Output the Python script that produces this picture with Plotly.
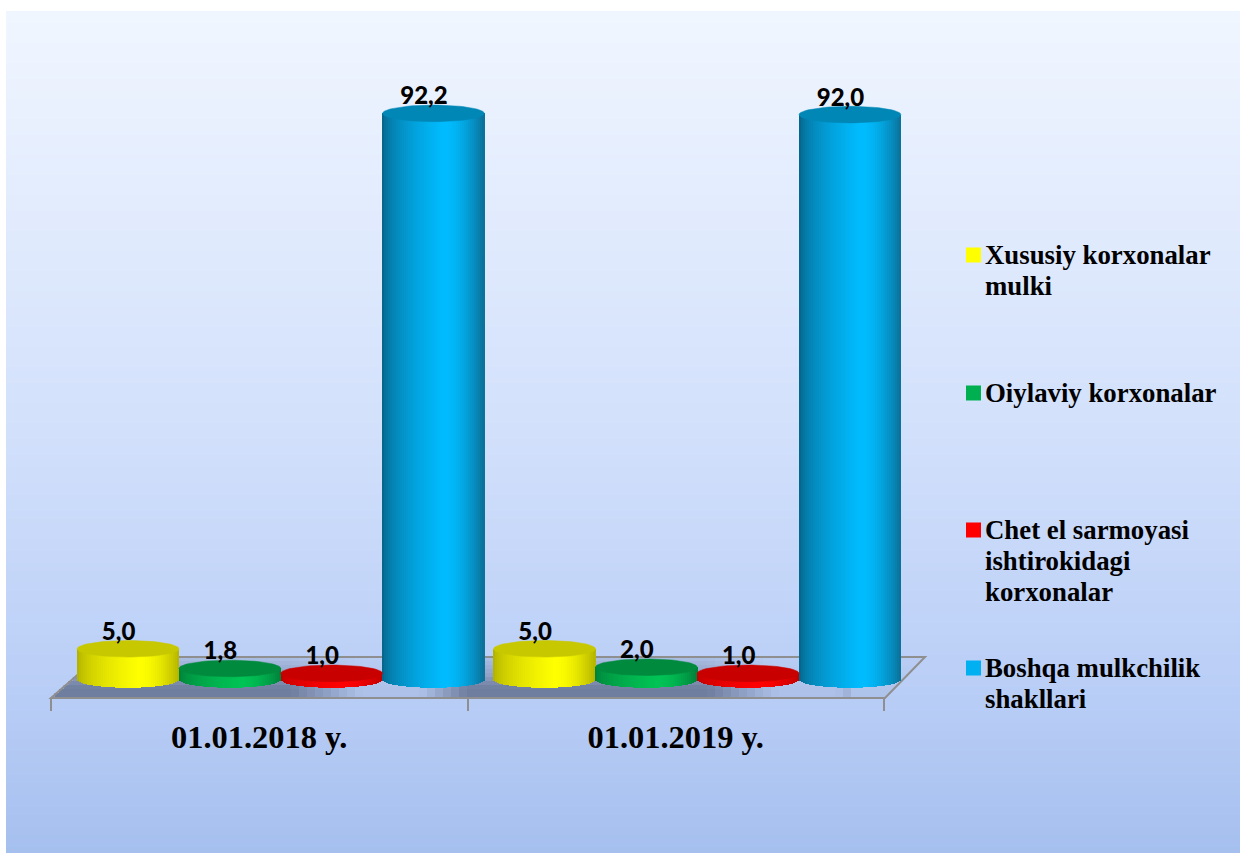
import math
import plotly.graph_objects as go

W, H = 1240, 853
categories = ["01.01.2018 y.", "01.01.2019 y."]
series_names = ["Xususiy korxonalar mulki", "Oiylaviy korxonalar",
                "Chet el sarmoyasi ishtirokidagi korxonalar", "Boshqa mulkchilik shakllari"]
xususiy = [5.0, 5.0]
oiylaviy = [1.8, 2.0]
chet_el = [1.0, 1.0]
boshqa = [92.2, 92.0]
series_values = [xususiy, oiylaviy, chet_el, boshqa]
legend_lines = [["Xususiy korxonalar", "mulki"], ["Oiylaviy korxonalar"],
                ["Chet el sarmoyasi", "ishtirokidagi", "korxonalar"],
                ["Boshqa mulkchilik", "shakllari"]]
swatch_colors = ["#ffff00", "#00b050", "#ff0000", "#00b0f0"]
# edge-left, peak, edge-right, top-cap
shades = [("#a8a800", "#ffff00", "#b4b400", "#c8c800"),
          ("#007a36", "#00c355", "#007f3a", "#008a3e"),
          ("#b80000", "#ff0000", "#c00000", "#c80000"),
          ("#075a7c", "#00bcff", "#0a6f96", "#0087b6")]

# plot-area geometry (px)
L, R, T, B = 51, 930, 11, 698
Y0_PX = 679.5
PX_PER_UNIT = 6.14
PX_PER_CAT = 416.5
bar_w_u = 101.8 / PX_PER_CAT
shift_u = 21.5 / PX_PER_CAT      # perspective shift of the columns
y_lo = -(B - Y0_PX) / PX_PER_UNIT
y_hi = (Y0_PX - T) / PX_PER_UNIT
ell_h = 8.3 / PX_PER_UNIT
N_STRIPS = 51


def px(xp):
    return (xp - L) / (R - L)


def py(yp):
    return (B - yp) / (B - T)


def hex2(c):
    return [int(c[i:i + 2], 16) for i in (1, 3, 5)]


def mix(a, b, t):
    return "rgb(%d,%d,%d)" % tuple(round(p + (q - p) * t) for p, q in zip(hex2(a), hex2(b)))


def shade(s, t):
    peak = 0.6
    if t < peak:
        return mix(s[0], s[1], (t / peak) ** 0.5)
    return mix(s[1], s[2], ((t - peak) / (1 - peak)) ** 1.8)


fig = go.Figure()

for si, vals in enumerate(series_values):
    xs, ys, bases, ws, cols = [], [], [], [], []
    for gi, v in enumerate(vals):
        cx = gi + shift_u + (si - 1.5) * bar_w_u
        for k in range(N_STRIPS):
            t = (k + 0.5) / N_STRIPS
            u = 2 * t - 1
            base = -ell_h * math.sqrt(max(0, 1 - u * u))
            xs.append(cx + u * bar_w_u / 2)
            bases.append(base)
            ys.append(v - base)
            ws.append(bar_w_u / N_STRIPS * 1.25)
            cols.append(shade(shades[si], t))
    fig.add_trace(go.Bar(x=xs, y=ys, base=bases, width=ws, marker=dict(color=cols, line=dict(width=0)),
                         name=series_names[si], showlegend=False, hoverinfo="skip", cliponaxis=False))
    for gi, v in enumerate(vals):
        cx = gi + shift_u + (si - 1.5) * bar_w_u
        ang = [2 * math.pi * i / 72 for i in range(73)]
        fig.add_trace(go.Scatter(x=[cx + bar_w_u / 2 * math.cos(a) for a in ang],
                                 y=[v + ell_h * math.sin(a) for a in ang],
                                 mode="lines", fill="toself", fillcolor=shades[si][3],
                                 line=dict(color=shades[si][3], width=0.5), showlegend=False,
                                 hoverinfo="skip", cliponaxis=False))

# data labels
lx, ly, lt = [], [], []
for si, vals in enumerate(series_values):
    for gi, v in enumerate(vals):
        lx.append(gi + shift_u + (si - 1.5) * bar_w_u - 9.5 / PX_PER_CAT)
        ly.append(v + 15 / PX_PER_UNIT)
        lt.append(f"{v:.1f}".replace(".", ","))
fig.add_trace(go.Scatter(x=lx, y=ly, text=lt, mode="text", textposition="middle center",
                         textfont=dict(family="Lato", size=24, color="#000000", weight=900),
                         showlegend=False, hoverinfo="skip", cliponaxis=False))

shapes = []
# background gradient
bg_stops = [(11, "#f0f6ff"), (430, "#d2e0fb"), (700, "#b8cdf6"), (853, "#a5bfee")]
step = 4
for y in range(11, H, step):
    for (a, ca), (b, cb) in zip(bg_stops, bg_stops[1:]):
        if a <= y <= b:
            col = mix(ca, cb, (y - a) / (b - a))
            break
    shapes.append(dict(type="rect", xref="paper", yref="paper", x0=px(6), x1=px(W + 2),
                       y0=py(H + 2), y1=py(y), fillcolor=col, line_width=0, layer="below"))


# floor shading
def horiz(x):
    if x > 850:
        return 0.12
    off = (x - 51) % PX_PER_CAT
    if off < 240:
        return 1.0
    if off < 310:
        return 1.0 - 0.85 * (off - 240) / 70
    if off < 370:
        return 0.15
    return 0.15 + 0.85 * (off - 370) / (PX_PER_CAT - 370)


def vert(y):
    if y < 675:
        return 0.2 + 0.35 * (y - 657) / 18
    if y < 688:
        return 0.55 + 0.45 * (y - 675) / 13
    return 1.0


for ya in range(657, 697, 4):
    yb = ya + 4
    ym = ya + 2
    lb = 51 + (698 - ym) * 47 / 41
    rb = 885 + (698 - ym) * 40 / 41
    xa = 51
    while xa < rb:
        x0, x1 = max(xa, lb), min(xa + 8, rb)
        if x1 > x0:
            alpha = 0.92 * horiz((x0 + x1) / 2) * vert(ym)
            shapes.append(dict(type="rect", xref="paper", yref="paper", x0=px(x0), x1=px(x1),
                               y0=py(yb), y1=py(ya), fillcolor=f"rgba(104,118,150,{alpha:.3f})",
                               line_width=0, layer="below"))
        xa += 8
fl = [(51, 698), (885, 698), (925, 657), (98, 657)]
path = "M " + " L ".join(f"{px(a):.5f},{py(b):.5f}" for a, b in fl) + " Z"
shapes.append(dict(type="path", xref="paper", yref="paper", path=path, fillcolor="rgba(0,0,0,0)",
                   line=dict(color="#8f8f8f", width=2), layer="below"))

# legend swatches
sw_y = [255, 393, 530, 668]
for c, y in zip(swatch_colors, sw_y):
    shapes.append(dict(type="rect", xref="paper", yref="paper", x0=px(966), x1=px(981),
                       y0=py(y + 7.5), y1=py(y - 7.5), fillcolor=c, line_width=0))

ann = []
for lines, y0 in zip(legend_lines, sw_y):
    for i, ln in enumerate(lines):
        ann.append(dict(xref="paper", yref="paper", x=px(983), y=py(y0 + i * 31), text=ln, showarrow=False,
                        xanchor="left", yanchor="middle", align="left",
                        font=dict(family="Liberation Serif", size=26.8, color="#000000", weight=700)))

fig.update_layout(
    width=W, height=H, autosize=False,
    margin=dict(l=L, r=W - R, t=T, b=H - B),
    paper_bgcolor="#ffffff", plot_bgcolor="rgba(0,0,0,0)",
    barmode="overlay", bargap=0, showlegend=False,
    shapes=shapes, annotations=ann,
    xaxis=dict(range=[-0.5, -0.5 + (R - L) / PX_PER_CAT], tickmode="array", tickvals=[0, 1], ticktext=categories,
               ticks="", showgrid=False, zeroline=False, showline=False,
               tickfont=dict(family="Liberation Serif", size=32.4, color="#000000", weight=700),
               ticklabelstandoff=17,
               minor=dict(tickmode="array", tickvals=[-0.5, 0.5, 1.5], ticks="outside", ticklen=12,
                          tickwidth=2, tickcolor="#8f8f8f", showgrid=False)),
    yaxis=dict(range=[y_lo, y_hi], visible=False, fixedrange=True),
)
fig.write_html("out.html", config=dict(displayModeBar=False),
               post_script="document.body.style.margin='0';document.documentElement.style.overflow='hidden';")
